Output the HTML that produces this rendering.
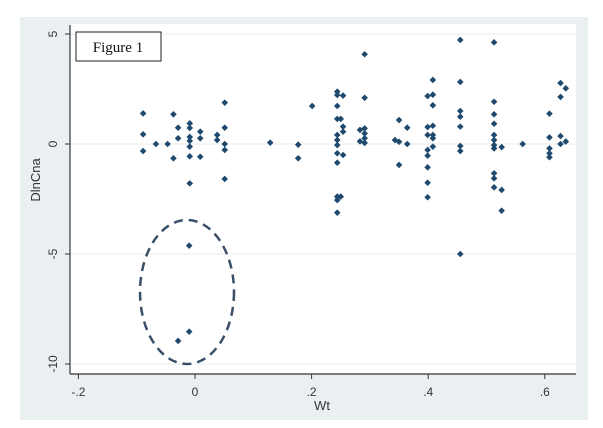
<!DOCTYPE html>
<html><head><meta charset="utf-8"><style>
html,body{margin:0;padding:0;background:#fff;}
svg{display:block;font-family:"Liberation Sans",sans-serif;}
</style></head><body>
<svg id="chart" width="603" height="428" viewBox="0 0 603 428">
<rect x="20" y="17" width="568" height="403" fill="#eaf0f2"/>
<rect x="70" y="24" width="506" height="350" fill="#ffffff"/>
<g id="grid"></g>
<g id="axes"></g>
<g id="points"></g>
<ellipse cx="187" cy="292" rx="47" ry="72" fill="none" stroke="#3a4f68" stroke-width="2.5" stroke-dasharray="9,6"/>
<rect x="76" y="32" width="85" height="29" fill="#fff" stroke="#222" stroke-width="1"/>
<text x="118" y="52" font-family="'Liberation Serif',serif" font-size="15" text-anchor="middle" fill="#111">Figure 1</text>
<text x="322" y="410" font-size="13" text-anchor="middle" fill="#333">Wt</text>
<text transform="translate(40,180) rotate(-90)" font-size="13" text-anchor="middle" fill="#333">DlnCna</text>
</svg>
<script>
const xTicks=[-0.2,0,0.2,0.4,0.6];
const xTickLabels=["-.2","0",".2",".4",".6"];
const yTicks=[5,0,-5,-10];
const yTickLabels=["5","0","-5","-10"];
const wt=[-0.089,-0.089,-0.089,-0.067,-0.047,-0.037,-0.029,-0.029,-0.037,-0.009,-0.009,-0.009,-0.009,-0.009,-0.009,-0.009,0.009,0.009,0.009,0.038,0.038,0.051,0.051,0.051,0.051,0.051,0.129,0.177,0.177,0.201,
0.244,0.244,0.244,0.244,0.244,0.244,0.244,0.244,0.244,0.244,0.244,0.244,0.254,0.254,0.254,0.254,0.25,0.25,
0.291,0.291,0.291,0.291,0.291,0.291,0.283,0.283,0.35,0.35,0.35,0.364,0.364,0.343,
0.399,0.399,0.399,0.399,0.399,0.399,0.399,0.399,0.408,0.408,0.408,0.408,0.408,0.408,0.408,
0.455,0.455,0.455,0.455,0.455,0.455,0.455,0.455,
0.513,0.513,0.513,0.513,0.513,0.513,0.513,0.513,0.513,0.513,0.513,0.526,0.526,0.526,0.562,
0.608,0.608,0.608,0.608,0.608,0.627,0.627,0.627,0.627,0.636,0.636,
-0.01,-0.01,-0.029];
const dlncna=[1.39,0.44,-0.32,0,0,1.35,0.74,0.26,-0.65,0.94,0.73,0.32,0.14,-0.12,-0.56,-1.79,0.56,0.26,-0.58,0.41,0.18,1.88,0.74,0,-0.27,-1.59,0.06,-0.03,-0.65,1.73,
2.38,2.23,1.73,1.14,0.41,0.18,-0.05,-0.42,-0.85,-2.39,-2.55,-3.12,2.2,0.79,0.56,-0.5,1.14,-2.39,
4.08,2.1,0.71,0.48,0.26,0.05,0.64,0.12,1.09,0.1,-0.95,0.74,0,0.18,
2.18,0.77,0.41,-0.27,-0.53,-1.06,-1.76,-2.42,2.91,2.24,1.76,0.83,0.41,0.26,-0.12,
4.73,2.82,1.5,1.24,0.79,-0.09,-0.32,-5.0,
4.62,1.92,1.35,0.92,0.41,0.18,-0.05,-0.2,-1.33,-1.56,-1.97,-0.14,-2.09,-3.03,0,
1.38,0.3,-0.2,-0.42,-0.6,2.77,2.14,0.36,0,2.53,0.11,
-4.62,-8.53,-8.95];
const NS="http://www.w3.org/2000/svg";
const X=v=>195+v*583;
const Y=v=>144-v*22;
function mk(tag,attrs,parent){const e=document.createElementNS(NS,tag);for(const k in attrs)e.setAttribute(k,attrs[k]);parent.appendChild(e);return e;}
const grid=document.getElementById('grid'),axes=document.getElementById('axes'),pts=document.getElementById('points');
yTicks.forEach((t,i)=>{
 const g=mk('line',{x1:70,x2:576,y1:Y(t),y2:Y(t),stroke:'#e8ecee','stroke-width':1},grid);
 
 
 const tk=mk('line',{x1:65,x2:70,y1:Y(t),y2:Y(t),stroke:'#333'},axes);
 
 
 const tx=mk('text',{transform:`translate(57,${Y(t)}) rotate(-90)`,'font-size':12,'text-anchor':'middle',fill:'#333'},axes);
 tx.textContent=yTickLabels[i];
 
 
});
xTicks.forEach((t,i)=>{
 const tk=mk('line',{x1:X(t),x2:X(t),y1:374,y2:379,stroke:'#333'},axes);
 
 
 const tx=mk('text',{x:X(t),y:396,'font-size':12,'text-anchor':'middle',fill:'#333'},axes);
 tx.textContent=xTickLabels[i];
 
 
});
const ya=mk('line',{x1:70,x2:70,y1:25,y2:374,stroke:'#333','stroke-width':1.2},axes);


const xa=mk('line',{x1:70,x2:576,y1:374,y2:374,stroke:'#333','stroke-width':1.2},axes);


wt.forEach((w,i)=>{
 const cx=X(w),cy=Y(dlncna[i]);
 const p=mk('polygon',{points:`${cx},${cy-3.3} ${cx+3.3},${cy} ${cx},${cy+3.3} ${cx-3.3},${cy}`,fill:'#1f4a6e'},pts);
 
 
});
</script>
</body></html>
